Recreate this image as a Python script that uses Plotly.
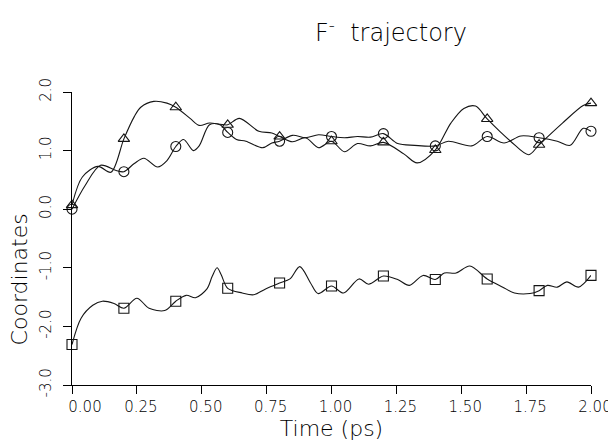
import plotly.graph_objects as go

# ---------------- data ----------------
tri_t = [0.0, 0.04, 0.10, 0.15, 0.2, 0.24, 0.265, 0.315, 0.366, 0.4, 0.455, 0.49, 0.53, 0.57,
         0.6, 0.645, 0.72, 0.77, 0.8, 0.85, 0.9, 0.95, 1.0, 1.05, 1.1, 1.15, 1.2, 1.28, 1.33,
         1.4, 1.46, 1.51, 1.555, 1.6, 1.69, 1.76, 1.8, 1.89, 1.97, 2.0]
tri_v = [0.07, 0.55, 0.73, 0.63, 1.20, 1.58, 1.74, 1.84, 1.81, 1.74, 1.55, 1.43, 1.47, 1.45,
         1.44, 1.55, 1.33, 1.30, 1.24, 1.15, 1.22, 1.05, 1.16, 0.98, 1.12, 1.08, 1.14, 0.94, 0.79,
         1.01, 1.47, 1.72, 1.76, 1.54, 1.16, 0.93, 1.10, 1.47, 1.77, 1.81]

circ_t = [0.0, 0.05, 0.11, 0.17, 0.2, 0.24, 0.277, 0.33, 0.366, 0.4, 0.43, 0.468, 0.49, 0.53,
          0.57, 0.6, 0.634, 0.67, 0.735, 0.77, 0.8, 0.85, 0.9, 0.95, 1.0, 1.05, 1.1, 1.15, 1.2,
          1.255, 1.32, 1.4, 1.45, 1.54, 1.6, 1.665, 1.73, 1.8, 1.87, 1.92, 1.97, 2.0]
circ_v = [0.0, 0.40, 0.75, 0.66, 0.64, 0.78, 0.87, 0.72, 0.83, 1.07, 1.19, 1.00, 1.08, 1.44,
          1.44, 1.31, 1.19, 1.16, 1.05, 1.13, 1.16, 1.26, 1.22, 1.27, 1.24, 1.22, 1.24, 1.23, 1.29,
          1.12, 1.09, 1.08, 1.16, 1.08, 1.24, 1.13, 1.25, 1.22, 1.16, 1.09, 1.38, 1.33]

sq_t = [0.0, 0.035, 0.08, 0.117, 0.162, 0.2, 0.25, 0.297, 0.357, 0.4, 0.44, 0.476, 0.52, 0.54,
        0.559, 0.575, 0.6, 0.656, 0.70, 0.746, 0.8, 0.84, 0.878, 0.918, 0.948, 1.0, 1.046, 1.106,
        1.143, 1.2, 1.255, 1.30, 1.353, 1.4, 1.435, 1.48, 1.533, 1.6, 1.66, 1.705, 1.765, 1.8,
        1.832, 1.87, 1.907, 1.952, 2.0]
sq_v = [-2.31, -1.86, -1.64, -1.57, -1.61, -1.69, -1.52, -1.69, -1.73, -1.57, -1.47, -1.51, -1.36, -1.15,
        -1.00, -1.12, -1.35, -1.43, -1.46, -1.36, -1.26, -1.19, -0.98, -1.25, -1.44, -1.31, -1.43, -1.19,
        -1.28, -1.14, -1.20, -1.30, -1.13, -1.20, -1.09, -1.09, -0.97, -1.19, -1.33, -1.43, -1.44, -1.39,
        -1.30, -1.33, -1.24, -1.33, -1.13]

x_tickvals = [0.0, 0.25, 0.5, 0.75, 1.0, 1.25, 1.5, 1.75, 2.0]
x_ticklabels = ["0.00", "0.25", "0.50", "0.75", "1.00", "1.25", "1.50", "1.75", "2.00"]
y_tickvals = [-3, -2, -1, 0, 1, 2]
y_ticklabels = ["-3.0", "-2.0", "-1.0", "0.0", "1.0", "2.0"]
marker_step = 0.2

FONT = "DejaVu Sans"
INK = "#000000"
TICKFONT = dict(size=15, family=FONT, color=INK, weight=200)


def markers_of(ts, vs):
    mt, mv = [], []
    for t, v in zip(ts, vs):
        k = t / marker_step
        if abs(k - round(k)) < 1e-6:
            mt.append(t)
            mv.append(v)
    return mt, mv


fig = go.Figure()
for ts, vs, sym in [(tri_t, tri_v, "triangle-up-open"),
                    (circ_t, circ_v, "circle-open"),
                    (sq_t, sq_v, "square-open")]:
    fig.add_trace(go.Scatter(x=ts, y=vs, mode="lines",
                             line=dict(shape="spline", smoothing=0.9, color="#151515", width=1.1),
                             cliponaxis=False, showlegend=False, hoverinfo="skip"))
    mt, mv = markers_of(ts, vs)
    fig.add_trace(go.Scatter(x=mt, y=mv, mode="markers",
                             marker=dict(symbol=sym, size=10, color="#151515",
                                         line=dict(width=1.1, color="#151515")),
                             cliponaxis=False, showlegend=False))

# empty helper trace so the second (overlaid) x axis, which carries only the shifted "0.00" label, is drawn
fig.add_trace(go.Scatter(x=[], y=[], xaxis="x2", yaxis="y", showlegend=False, hoverinfo="skip"))

common_axis = dict(showgrid=False, zeroline=False, ticks="outside", ticklen=8, tickwidth=1,
                   tickcolor=INK, tickfont=TICKFONT)

fig.update_layout(
    width=616, height=440, autosize=False,
    margin=dict(l=64, r=28, t=84, b=55),
    paper_bgcolor="white", plot_bgcolor="white",
    font=dict(family=FONT, color=INK, weight=200),
    title=dict(text="F<sup>-</sup>  trajectory", x=383 / 616, xanchor="center",
               y=1 - 25 / 440, yanchor="middle", xref="container", yref="container",
               font=dict(size=24, family=FONT, color=INK, weight=200)),
    xaxis=dict(range=[0, 2], showline=True, linecolor=INK, linewidth=1,
               tickvals=x_tickvals[1:], ticktext=x_ticklabels[1:], ticklabelshift=4,
               title=dict(text="Time (ps)", standoff=5,
                          font=dict(size=22, family=FONT, color=INK, weight=200)),
               **common_axis),
    xaxis2=dict(range=[0, 2], overlaying="x", matches="x", anchor="y", side="bottom",
                showline=False, tickvals=x_tickvals[:1], ticktext=x_ticklabels[:1],
                ticklabelshift=13, **common_axis),
    yaxis=dict(range=[-3, 2], showline=True, linecolor=INK, linewidth=1,
               tickvals=y_tickvals, ticktext=y_ticklabels, tickangle=-90,
               ticklabelstandoff=6, **common_axis),
    annotations=[
        dict(text="Coordinates", xref="paper", yref="paper", x=(11 - 64) / 524, y=(385 - 277) / 301,
             textangle=-90, showarrow=False, xanchor="center", yanchor="middle",
             font=dict(size=22, family=FONT, color=INK, weight=200)),
    ],
)

fig.write_html("out.html")
